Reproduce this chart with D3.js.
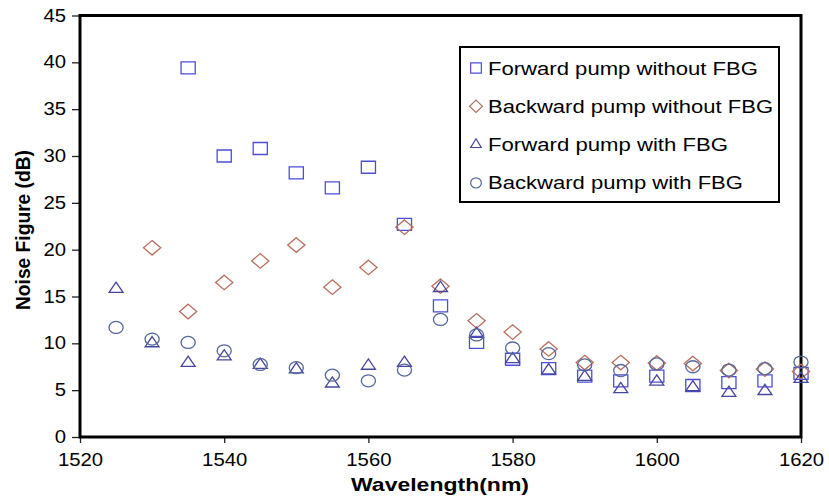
<!DOCTYPE html>
<html>
<head>
<meta charset="utf-8">
<script src="https://cdn.jsdelivr.net/npm/d3@7"></script>
<style>
  body { margin: 0; background: #fff; }
  text { font-family: "Liberation Sans", Arial, sans-serif; }
</style>
</head>
<body>
<div id="chart"></div>
<script>
// data
var fwdNoFbgX = [1535,1540,1545,1550,1555,1560,1565,1570,1575,1580,1585,1590,1595,1600,1605,1610,1615,1620];
var fwdNoFbg  = [39.4,30.0,30.8,28.2,26.6,28.8,22.7,14.0,10.1,8.3,7.3,6.5,6.0,6.5,5.5,5.8,6.0,6.8];

var bwdNoFbgX = [1530,1535,1540,1545,1550,1555,1560,1565,1570,1575,1580,1585,1590,1595,1600,1605,1610,1615,1620];
var bwdNoFbg  = [20.2,13.4,16.5,18.8,20.5,16.0,18.1,22.4,16.1,12.4,11.2,9.4,7.95,7.95,7.9,7.85,7.1,7.25,7.0];

var fwdFbgX = [1525,1530,1535,1540,1545,1550,1555,1560,1565,1570,1575,1580,1585,1590,1595,1600,1605,1610,1615,1620];
var fwdFbg  = [15.8,10.0,7.9,8.6,7.7,7.2,5.7,7.6,7.9,15.9,11.0,8.3,7.1,6.4,5.1,5.9,5.3,4.7,4.9,6.2];

var bwdFbgX = [1525,1530,1535,1540,1545,1550,1555,1560,1565,1570,1575,1580,1585,1590,1595,1600,1605,1610,1615,1620];
var bwdFbg  = [11.7,10.45,10.1,9.2,7.75,7.4,6.6,6.0,7.15,12.55,10.9,9.5,8.9,7.7,7.1,7.8,7.5,7.15,7.3,8.0];

var seriesNames = ["Forward pump without FBG", "Backward pump without FBG", "Forward pump with FBG", "Backward pump with FBG"];
var xTicks = [1520,1540,1560,1580,1600,1620];
var yTicks = [0,5,10,15,20,25,30,35,40,45];

var width = 829, height = 496;
var plotL = 80, plotR = 801, plotT = 15.5, plotB = 437;

var svg = d3.select("#chart").append("svg")
    .attr("width", width)
    .attr("height", height);

var x = d3.scaleLinear().domain([1520,1620]).range([plotL, plotR]);
var y = d3.scaleLinear().domain([0,45]).range([plotB, plotT]);

// marker look for each series (picture is a bit stretched sideways)
var stretch = 1.18;
var styles = [
  {type: d3.symbolSquare,   size: 144, color: "#4d4ddb"},
  {type: d3.symbolDiamond2, size: 136, color: "#b8705f"},
  {type: d3.symbolTriangle2, size: 100, color: "#4646a0"},
  {type: d3.symbolCircle,   size: 113, color: "#56689c"}
];

var series = [
  {xs: fwdNoFbgX, ys: fwdNoFbg},
  {xs: bwdNoFbgX, ys: bwdNoFbg},
  {xs: fwdFbgX, ys: fwdFbg},
  {xs: bwdFbgX, ys: bwdFbg}
];

// y axis
var yAxis = svg.append("g")
    .attr("transform", "translate(" + plotL + ",0)")
    .call(d3.axisLeft(y).tickValues(yTicks).tickSize(8).tickPadding(6).tickSizeOuter(0));
yAxis.select(".domain").remove();

// x axis
var xAxis = svg.append("g")
    .attr("transform", "translate(0," + plotB + ")")
    .call(d3.axisBottom(x).tickValues(xTicks).tickFormat(d3.format("d")).tickSize(6).tickPadding(10.5).tickSizeOuter(0));
xAxis.select(".domain").remove();

svg.selectAll(".tick line").attr("stroke", "#222").attr("stroke-width", 1.3);
svg.selectAll(".tick text")
    .attr("fill", "#000")
    .style("font-size", "17.5px")
    .each(function() {
      var w = this.getComputedTextLength();
      d3.select(this).attr("textLength", w * 1.16).attr("lengthAdjust", "spacingAndGlyphs");
    });

// frame
svg.append("rect")
    .attr("x", plotL)
    .attr("y", plotT)
    .attr("width", plotR - plotL)
    .attr("height", plotB - plotT)
    .attr("fill", "none")
    .attr("stroke", "#000")
    .attr("stroke-width", 3);

// draw dots
series.forEach(function(s, i) {
  var st = styles[i];
  var sym = d3.symbol().type(st.type).size(st.size);
  svg.append("g").selectAll("path")
      .data(s.ys)
      .enter().append("path")
      .attr("d", sym)
      .attr("transform", function(d, j) {
        return "translate(" + x(s.xs[j]) + "," + y(d) + ") scale(" + stretch + ",1)";
      })
      .attr("fill", "none")
      .attr("stroke", st.color)
      .attr("stroke-width", 1.3)
      .attr("vector-effect", "non-scaling-stroke");
});

// legend
var legend = svg.append("g");
legend.append("rect")
    .attr("x", 460)
    .attr("y", 47)
    .attr("width", 319)
    .attr("height", 155)
    .attr("fill", "#fff")
    .attr("stroke", "#000")
    .attr("stroke-width", 2);

var legendWidths = [270, 285, 240, 255];
seriesNames.forEach(function(name, i) {
  var cy = 68 + i * 38.3;
  var st = styles[i];
  legend.append("path")
      .attr("d", d3.symbol().type(st.type).size(st.size * 0.72))
      .attr("transform", "translate(476," + cy + ") scale(1.05,1)")
      .attr("fill", "none")
      .attr("stroke", st.color)
      .attr("stroke-width", 1.2)
      .attr("vector-effect", "non-scaling-stroke");
  legend.append("text")
      .attr("x", 488)
      .attr("y", cy + 6.5)
      .attr("textLength", legendWidths[i])
      .attr("lengthAdjust", "spacingAndGlyphs")
      .style("font-size", "17.5px")
      .attr("fill", "#000")
      .text(name);
});

// axis titles
svg.append("text")
    .attr("x", 440)
    .attr("y", 491)
    .attr("text-anchor", "middle")
    .attr("textLength", 178)
    .attr("lengthAdjust", "spacingAndGlyphs")
    .style("font-size", "19px")
    .style("font-weight", "bold")
    .attr("fill", "#000")
    .text("Wavelength(nm)");

svg.append("text")
    .attr("transform", "translate(30,230) rotate(-90)")
    .attr("text-anchor", "middle")
    .attr("textLength", 160)
    .attr("lengthAdjust", "spacingAndGlyphs")
    .style("font-size", "20px")
    .style("font-weight", "bold")
    .attr("fill", "#000")
    .text("Noise Figure (dB)");
</script>
</body>
</html>
